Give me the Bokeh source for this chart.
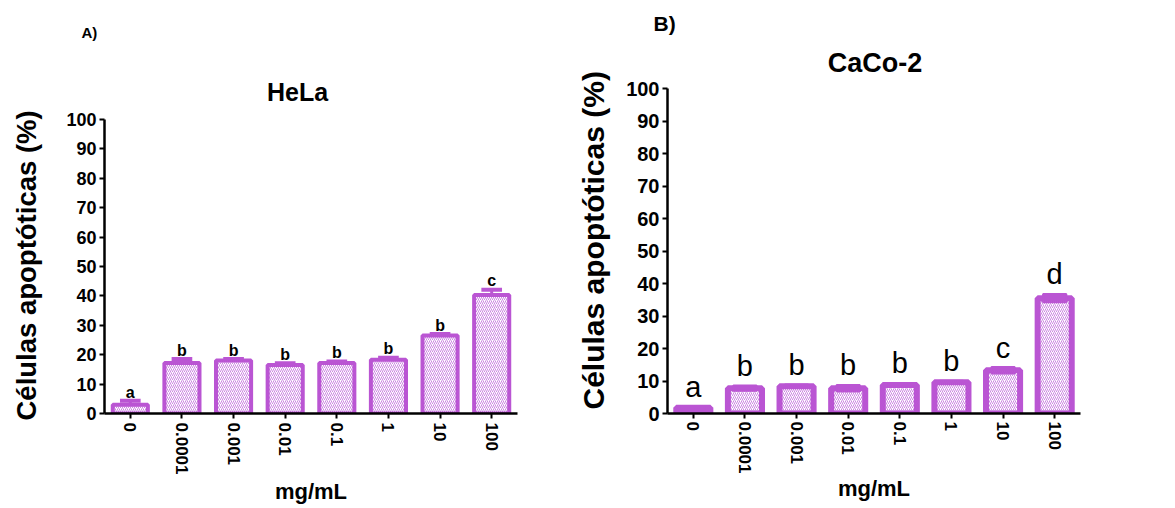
from bokeh.plotting import figure
from bokeh.layouts import row
from bokeh.models import Range1d, FixedTicker, ColumnDataSource, Title, Label, LinearAxis
from bokeh.embed import file_html
from bokeh.resources import INLINE
from bokeh.core.properties import value

# ---------------- data ----------------
categories = ["0", "0.0001", "0.001", "0.01", "0.1", "1", "10", "100"]
hela_mean = [3.0, 17.2, 18.0, 16.5, 17.2, 18.3, 26.5, 40.3]
hela_err = [1.3, 1.3, 0.5, 0.6, 0.5, 0.7, 0.5, 1.8]
hela_letters = ["a", "b", "b", "b", "b", "b", "b", "c"]
caco_mean = [1.8, 7.8, 8.4, 7.8, 8.8, 9.6, 13.3, 35.5]
caco_err = [0.5, 0.8, 0.5, 1.0, 0.6, 0.5, 1.0, 1.3]
caco_letters = ["a", "b", "b", "b", "b", "b", "c", "d"]
y_ticks = [0, 10, 20, 30, 40, 50, 60, 70, 80, 90, 100]
y_label = "Células apoptóticas (%)"
x_label = "mg/mL"

PURPLE = "#BA55D3"
HATCH = "#CC88E2"
FONT = "Liberation Sans"

HEIGHT = 508
BORDER_TOP = 43
BORDER_BOTTOM = 95
FRAME_H = HEIGHT - BORDER_TOP - BORDER_BOTTOM


def make_panel(means, errs, letters, title, tag, dims, style):
    xs = [i + 0.5 for i in range(len(categories))]
    # the 0..100 axis spans style["axis_px"] pixels; the frame is taller
    y_top = 100.0 * FRAME_H / style["axis_px"]
    p = figure(output_backend="svg", toolbar_location=None, title=None,
               width=dims["w"], height=HEIGHT,
               min_border_left=dims["bl"], min_border_right=dims["br"],
               min_border_top=BORDER_TOP, min_border_bottom=BORDER_BOTTOM,
               x_range=Range1d(0, len(categories)), y_range=Range1d(0, y_top))
    p.outline_line_color = None
    p.xgrid.visible = False
    p.ygrid.visible = False
    p.background_fill_color = "white"
    p.border_fill_color = "white"

    src = ColumnDataSource(dict(
        x=xs, top=means, err_top=[m + e for m, e in zip(means, errs)],
        err_bot=[m - e for m, e in zip(means, errs)],
        lab_y=[m + e + style["lab_off"] for m, e in zip(means, errs)],
        letters=letters))

    p.vbar(x="x", top="top", bottom=0, width=style["bar_w"], source=src,
           fill_color="white", line_color=PURPLE, line_width=style["bar_lw"],
           hatch_pattern="right_diagonal_line", hatch_color=HATCH,
           hatch_scale=4, hatch_weight=1.0)
    if style["block_err"]:
        p.vbar(x="x", top="err_top", bottom="err_bot", width=style["cap_w"], source=src,
               fill_color=PURPLE, line_color=PURPLE, line_width=2)
    else:
        p.segment(x0="x", y0="top", x1="x", y1="err_top", source=src,
                  line_color=PURPLE, line_width=3)
        p.segment(x0=[x - style["cap_w"] / 2 for x in xs], y0=src.data["err_top"],
                  x1=[x + style["cap_w"] / 2 for x in xs], y1=src.data["err_top"],
                  line_color=PURPLE, line_width=style["cap_lw"])

    p.text(x="x", y="lab_y", text="letters", source=src,
           text_font=value(FONT), text_font_size=style["let_size"],
           text_font_style=style["let_style"], text_align="center",
           text_baseline="middle", text_color="black")

    # axes
    p.xaxis.ticker = FixedTicker(ticks=xs)
    p.xaxis.major_label_overrides = {x: c for x, c in zip(xs, categories)}
    p.xaxis.major_label_orientation = "vertical"
    p.yaxis.ticker = FixedTicker(ticks=y_ticks)
    p.yaxis.bounds = (0, 100)
    for ax in (p.xaxis, p.yaxis):
        ax.axis_line_width = 2.5
        ax.axis_line_color = "black"
        ax.major_tick_line_width = 2
        ax.major_tick_line_color = "black"
        ax.major_tick_out = 5
        ax.major_tick_in = 0
        ax.minor_tick_line_color = None
        ax.major_label_text_font = FONT
        ax.major_label_text_font_style = "bold"
        ax.major_label_text_color = "black"
        ax.axis_label_text_font = FONT
        ax.axis_label_text_font_style = "bold"
        ax.axis_label_text_color = "black"
    p.xaxis.major_label_text_font_size = style["xtick_size"]
    p.yaxis.major_label_text_font_size = style["ytick_size"]
    p.xaxis.major_label_standoff = style["xtick_standoff"]
    p.yaxis.major_label_standoff = 3
    p.xaxis.axis_label = x_label
    p.xaxis.axis_label_text_font_size = style["xlab_size"]
    p.xaxis.axis_label_standoff = style["xlab_standoff"]

    # invisible spacer axis (one white tick, empty label) between y axis and its title
    if style["spacer"] > 0:
        spacer = LinearAxis(ticker=FixedTicker(ticks=[50]), major_tick_out=style["spacer"],
                            major_tick_in=0, major_tick_line_color="white",
                            major_tick_line_width=1, axis_line_color=None,
                            minor_tick_line_color=None, minor_tick_out=0,
                            major_label_standoff=0, major_label_text_font_size="1px",
                            major_label_text_color="white",
                            major_label_overrides={50: ""})
        p.add_layout(spacer, "left")

    # y label as a side title (positioned along the 0..100 axis)
    p.add_layout(Title(text=y_label, text_font=FONT, text_font_style="bold",
                       text_font_size=style["ylab_size"], align="left",
                       offset=style["ylab_off"], standoff=style["ylab_standoff"],
                       text_color="black"), "left")

    p.add_layout(Label(x=style["title_x"], y=style["title_y"], text=title,
                       text_font=FONT, text_font_style="bold",
                       text_font_size=style["title_size"], text_align="center",
                       text_baseline="middle", text_color="black"))
    p.add_layout(Title(text=tag, text_font=FONT, text_font_style="bold",
                       text_font_size=style["tag_size"], align="left",
                       offset=style["tag_off"], standoff=style["tag_standoff"],
                       text_color="black"), "above")
    return p


pa = make_panel(hela_mean, hela_err, hela_letters, "HeLa", "A)",
                dict(w=560, bl=104, br=43),
                dict(axis_px=294, bar_w=0.68, bar_lw=4, block_err=False, cap_w=0.4, cap_lw=4,
                     lab_off=3.0, let_size="16px", let_style="bold",
                     xtick_size="17px", ytick_size="18px", xlab_size="22px",
                     xtick_standoff=4, xlab_standoff=2,
                     spacer=22, ylab_size="27.5px", ylab_standoff=0, ylab_off=-7,
                     title_x=3.74, title_y=109.5, title_size="25px",
                     tag_off=-23, tag_standoff=6, tag_size="15px"))

pb = make_panel(caco_mean, caco_err, caco_letters, "CaCo-2", "B)",
                dict(w=614, bl=104, br=94),
                dict(axis_px=325, bar_w=0.66, bar_lw=6, block_err=True, cap_w=0.45, cap_lw=5,
                     lab_off=6.0, let_size="29px", let_style="normal",
                     xtick_size="17px", ytick_size="20px", xlab_size="22px",
                     xtick_standoff=3, xlab_standoff=0,
                     spacer=0, ylab_size="30px", ylab_standoff=28, ylab_off=4,
                     title_x=4.02, title_y=107.7, title_size="27px",
                     tag_off=-14, tag_standoff=18, tag_size="21px"))

layout = row(pa, pb)
open("out.html", "w").write(file_html(layout, INLINE))
